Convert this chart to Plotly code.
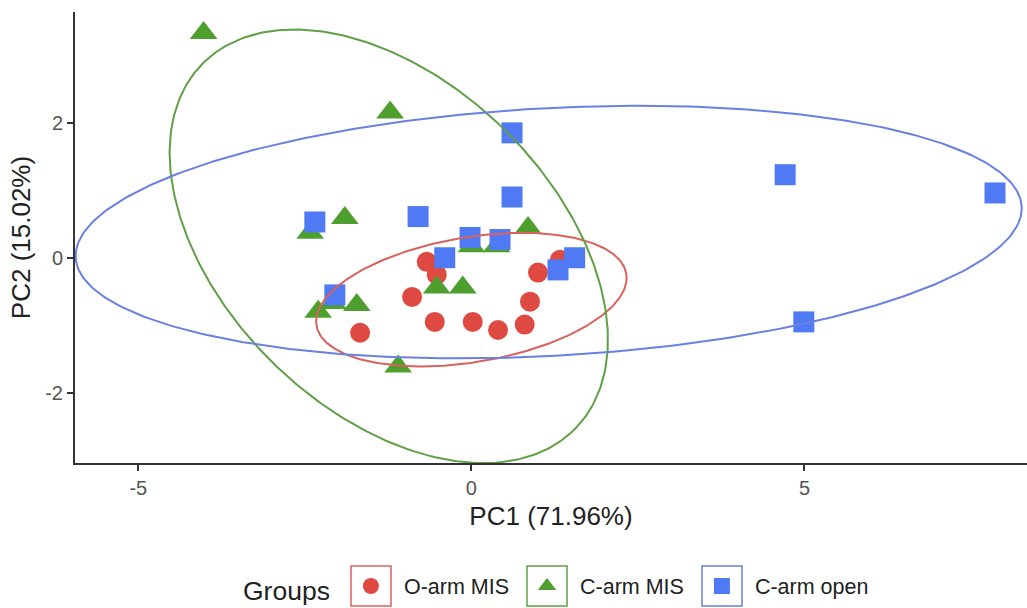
import numpy as np
import plotly.graph_objects as go

# ---------------- data ----------------
group_names = ["O-arm MIS", "C-arm MIS", "C-arm open"]

oarm_mis_pc1 = [-0.67, -0.52, -0.89, -0.55, 0.02, 0.40, 0.80, 0.88, 1.00, 1.33, -1.67]
oarm_mis_pc2 = [-0.06, -0.25, -0.58, -0.95, -0.95, -1.07, -0.99, -0.65, -0.22, -0.03, -1.11]

carm_mis_pc1 = [-4.02, -1.22, -1.90, -2.42, 0.85, 0.00, 0.38, -0.52, -0.13, -2.30, -2.08, -1.72, -1.10]
carm_mis_pc2 = [3.33, 2.15, 0.59, 0.37, 0.44, 0.17, 0.17, -0.44, -0.44, -0.80, -0.67, -0.70, -1.61]

carm_open_pc1 = [0.61, 0.61, 4.71, 7.86, 4.99, -2.35, -0.80, -0.02, 0.43, -0.40, -2.05, 1.55, 1.30]
carm_open_pc2 = [1.85, 0.90, 1.23, 0.96, -0.95, 0.53, 0.61, 0.30, 0.27, 0.00, -0.55, 0.00, -0.18]

# confidence ellipses: centre (pc1, pc2), semi-axes, rotation (deg)
ellipse_center_pc1 = [0.00, -1.24, 1.16]
ellipse_center_pc2 = [-0.62, 0.17, 0.38]
ellipse_semi_major = [2.357, 3.89, 7.11]
ellipse_semi_minor = [0.925, 2.45, 1.835]
ellipse_angle_deg = [9.3, -43.4, 3.04]

x_ticks = [-5, 0, 5]
x_tick_labels = ["-5", "0", "5"]
y_ticks = [-2, 0, 2]
y_tick_labels = ["-2", "0", "2"]

# ---------------- styling ----------------
marker_colors = ["#DE4A42", "#4E9F2D", "#4F7AF3"]
ellipse_colors = ["#D9625D", "#5FA046", "#6A80E2"]
marker_symbols = ["circle", "triangle-up", "square"]
marker_sizes = [20, 24, 21]

pcs = [(oarm_mis_pc1, oarm_mis_pc2), (carm_mis_pc1, carm_mis_pc2), (carm_open_pc1, carm_open_pc2)]

fig = go.Figure()
for i, name in enumerate(group_names):
    xs, ys = pcs[i]
    fig.add_trace(go.Scatter(
        x=xs, y=ys, mode="markers", name=name,
        marker=dict(symbol=marker_symbols[i], color=marker_colors[i],
                    size=marker_sizes[i], line=dict(width=0)),
    ))

t = np.linspace(0, 2 * np.pi, 361)
for i, name in enumerate(group_names):
    th = np.deg2rad(ellipse_angle_deg[i])
    a, b = ellipse_semi_major[i], ellipse_semi_minor[i]
    ex = ellipse_center_pc1[i] + a * np.cos(th) * np.cos(t) - b * np.sin(th) * np.sin(t)
    ey = ellipse_center_pc2[i] + a * np.sin(th) * np.cos(t) + b * np.cos(th) * np.sin(t)
    fig.add_trace(go.Scatter(
        x=ex, y=ey, mode="lines", showlegend=False, hoverinfo="skip",
        line=dict(color=ellipse_colors[i], width=2),
    ))

axis_common = dict(showgrid=False, zeroline=False, showline=True, linecolor="#333333",
                   linewidth=2, ticks="outside", ticklen=6, tickwidth=2, tickcolor="#333333",
                   tickfont=dict(size=20, color="#555555"), automargin=False)

# legend geometry (pixels in the 1027x608 page)
W, H = 1027, 608
L, R, T, B = 75, 0, 12, 145
PW, PH = W - L - R, H - T - B
legend_center_y_px = 588
key_center_y_px = 586
legend_key_centers_px = [371, 547, 722]
legend_key_size_px = 40

fig.update_layout(
    width=W, height=H,
    margin=dict(l=L, r=R, t=T, b=B),
    plot_bgcolor="white", paper_bgcolor="white",
    font=dict(family="Liberation Sans, Arial, sans-serif", color="#222222"),
    xaxis=dict(range=[-5.95, 8.34], tickvals=x_ticks, ticktext=x_tick_labels,
               title=dict(text="PC1 (71.96%)", font=dict(size=26, color="#222222"), standoff=9),
               **axis_common),
    yaxis=dict(range=[-3.04, 3.64], tickvals=y_ticks, ticktext=y_tick_labels,
               title=dict(text="PC2 (15.02%)", font=dict(size=26, color="#222222"), standoff=7),
               **axis_common),
    legend=dict(orientation="h", xref="container", yref="container",
                x=241 / W, xanchor="left",
                y=(H - legend_center_y_px) / H, yanchor="middle",
                title=dict(text="Groups", side="left", font=dict(size=26.5, color="#222222")),
                font=dict(size=21.5, color="#222222"),
                itemwidth=56,
                bgcolor="rgba(0,0,0,0)"),
    showlegend=True,
)

# outline boxes around the legend keys (ggplot-style key frames)
for i, cx in enumerate(legend_key_centers_px):
    h = legend_key_size_px / 2
    fig.add_shape(type="rect", xref="paper", yref="paper",
                  x0=(cx - h - L) / PW, x1=(cx + h - L) / PW,
                  y0=(T + PH - (key_center_y_px + h)) / PH,
                  y1=(T + PH - (key_center_y_px - h)) / PH,
                  line=dict(color=ellipse_colors[i], width=1.5), fillcolor="rgba(0,0,0,0)")

fig.write_html("out.html", config={"displayModeBar": False},
               post_script="document.body.style.margin='0';document.body.style.overflow='hidden';")
